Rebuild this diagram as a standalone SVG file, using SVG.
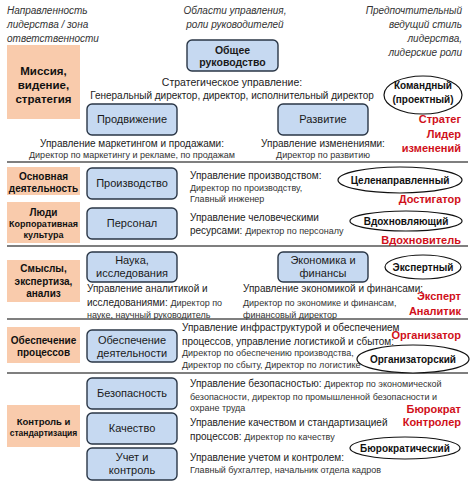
<svg xmlns="http://www.w3.org/2000/svg" width="474" height="485" viewBox="0 0 474 485">
<style>
text{font-family:"Liberation Sans",Arial,sans-serif;fill:#222}
.hd{font-style:italic;font-size:10px;fill:#333}
.zone rect{fill:#f9cbac}
.zone text{font-weight:bold;font-size:10px;text-anchor:middle;fill:#111}
.area rect{fill:#c6d9f1;stroke:#2a3646;stroke-width:1.4}
.area text{font-size:11px;text-anchor:middle;fill:#1a1a1a}
.style ellipse{fill:#fff;stroke:#111;stroke-width:1.2}
.style text{font-weight:bold;font-size:10px;text-anchor:middle;fill:#111}
.role{font-weight:bold;font-size:11px;text-anchor:end;fill:#d0101a}
.m{font-size:10px;fill:#222}
.s{font-size:9px;fill:#333}
.sep line{stroke:#555;stroke-width:1.6}
</style>

<g id="headers">
<text class="hd" x="7" y="14">Направленность</text>
<text class="hd" x="7" y="28">лидерства / зона</text>
<text class="hd" x="7" y="42">ответственности</text>
<text class="hd" x="235" y="14" text-anchor="middle">Области управления,</text>
<text class="hd" x="235" y="28" text-anchor="middle">роли руководителей</text>
<text class="hd" x="462" y="14" text-anchor="end">Предпочтительный</text>
<text class="hd" x="462" y="28" text-anchor="end">ведущий стиль</text>
<text class="hd" x="462" y="42" text-anchor="end">лидерства,</text>
<text class="hd" x="462" y="56" text-anchor="end">лидерские роли</text>
</g>

<g id="connectors" class="sep">
<line x1="7" y1="162" x2="468" y2="162"/>
<line x1="7" y1="246" x2="468" y2="246"/>
<line x1="7" y1="319" x2="468" y2="319"/>
<line x1="7" y1="373" x2="468" y2="373"/>
</g>

<g id="zone-mission" class="zone">
<rect x="7" y="45" width="73" height="74"/>
<text x="43.5" y="75" style="font-size:11.5px">Миссия,</text>
<text x="43.5" y="89" style="font-size:11.5px">видение,</text>
<text x="43.5" y="103" style="font-size:11.5px">стратегия</text>
</g>
<g id="zone-core" class="zone">
<rect x="7" y="167" width="73" height="28"/>
<text x="43.5" y="179.5">Основная</text>
<text x="43.5" y="191.5">деятельность</text>
</g>
<g id="zone-people" class="zone">
<rect x="7" y="202" width="73" height="41"/>
<text x="43.5" y="215.5">Люди</text>
<text x="43.5" y="226.5" style="font-size:9px">Корпоративная</text>
<text x="43.5" y="237.5" style="font-size:9px">культура</text>
</g>
<g id="zone-sense" class="zone">
<rect x="7" y="260" width="73" height="42"/>
<text x="43.5" y="271.5">Смыслы,</text>
<text x="43.5" y="284.5">экспертиза,</text>
<text x="43.5" y="296.5">анализ</text>
</g>
<g id="zone-support" class="zone">
<rect x="7" y="327" width="73" height="36"/>
<text x="43.5" y="343.5">Обеспечение</text>
<text x="43.5" y="355.5">процессов</text>
</g>
<g id="zone-control" class="zone">
<rect x="7" y="405" width="73" height="42"/>
<text x="43.5" y="425" style="font-size:9.5px">Контроль и</text>
<text x="43.5" y="436" style="font-size:8.5px">стандартизация</text>
</g>

<g id="area-general" class="area">
<rect x="187" y="40" width="91" height="31" rx="5"/>
<text x="232.5" y="53.5" style="font-weight:bold;font-size:10.5px">Общее</text>
<text x="232.5" y="66" style="font-weight:bold;font-size:10.5px">руководство</text>
</g>
<g id="area-promo" class="area">
<rect x="87" y="104" width="90" height="31" rx="5"/>
<text x="132" y="123">Продвижение</text>
</g>
<g id="area-dev" class="area">
<rect x="278" y="104" width="90" height="31" rx="5"/>
<text x="323" y="123">Развитие</text>
</g>
<g id="area-prod" class="area">
<rect x="87" y="168" width="90" height="31" rx="5"/>
<text x="132" y="187">Производство</text>
</g>
<g id="area-hr" class="area">
<rect x="87" y="208" width="90" height="31" rx="5"/>
<text x="132" y="227">Персонал</text>
</g>
<g id="area-science" class="area">
<rect x="87" y="252" width="90" height="30" rx="5"/>
<text x="132" y="264">Наука,</text>
<text x="132" y="277">исследования</text>
</g>
<g id="area-econ" class="area">
<rect x="278" y="252" width="90" height="30" rx="5"/>
<text x="323" y="264">Экономика и</text>
<text x="323" y="277">финансы</text>
</g>
<g id="area-support" class="area">
<rect x="87" y="330" width="90" height="32" rx="5"/>
<text x="132" y="344">Обеспечение</text>
<text x="132" y="357">деятельности</text>
</g>
<g id="area-safety" class="area">
<rect x="87" y="378" width="90" height="31" rx="5"/>
<text x="132" y="397">Безопасность</text>
</g>
<g id="area-quality" class="area">
<rect x="87" y="413" width="90" height="31" rx="5"/>
<text x="132" y="432">Качество</text>
</g>
<g id="area-account" class="area">
<rect x="87" y="448" width="90" height="32" rx="5"/>
<text x="132" y="461">Учет и</text>
<text x="132" y="474">контроль</text>
</g>

<g id="desc-general">
<text class="m" x="232" y="86" text-anchor="middle" style="font-size:10.5px">Стратегическое управление:</text>
<text class="m" x="232" y="99" text-anchor="middle">Генеральный директор, директор, исполнительный директор</text>
</g>
<g id="desc-promo">
<text class="m" x="132" y="147" text-anchor="middle">Управление маркетингом и продажами:</text>
<text class="s" x="132" y="158" text-anchor="middle">Директор по маркетингу и рекламе, по продажам</text>
</g>
<g id="desc-dev">
<text class="m" x="323" y="147" text-anchor="middle">Управление изменениями:</text>
<text class="s" x="323" y="158" text-anchor="middle">Директор по развитию</text>
</g>
<g id="desc-prod">
<text class="m" x="190" y="179">Управление производством:</text>
<text class="s" x="190" y="191">Директор по производству,</text>
<text class="s" x="190" y="202">Главный инженер</text>
</g>
<g id="desc-hr">
<text class="m" x="190" y="221">Управление человеческими</text>
<text class="m" x="190" y="234">ресурсами: <tspan class="s">Директор по персоналу</tspan></text>
</g>
<g id="desc-science">
<text class="m" x="87" y="292">Управление аналитикой и</text>
<text class="m" x="87" y="306">исследованиями: <tspan class="s">Директор по</tspan></text>
<text class="s" x="87" y="318">науке, научный руководитель</text>
</g>
<g id="desc-econ">
<text class="m" x="243" y="292">Управление экономикой и финансами:</text>
<text class="s" x="243" y="306">Директор по экономике и финансам,</text>
<text class="s" x="243" y="318">финансовый директор</text>
</g>
<g id="desc-support">
<text class="m" x="182" y="331">Управление инфраструктурой и обеспечением</text>
<text class="m" x="182" y="345">процессов, управление логистикой и сбытом:</text>
<text class="s" x="182" y="356">Директор по обеспечению производства,</text>
<text class="s" x="182" y="368">Директор по сбыту, Директор по логистике</text>
</g>
<g id="desc-safety">
<text class="m" x="190" y="387">Управление безопасностью: <tspan class="s">Директор по экономической</tspan></text>
<text class="s" x="190" y="400">безопасности, директор по промышленной безопасности и</text>
<text class="s" x="190" y="411">охране труда</text>
</g>
<g id="desc-quality">
<text class="m" x="190" y="426">Управление качеством и стандартизацией</text>
<text class="m" x="190" y="440">процессов: <tspan class="s">Директор по качеству</tspan></text>
</g>
<g id="desc-account">
<text class="m" x="190" y="461">Управление учетом и контролем:</text>
<text class="s" x="190" y="473">Главный бухгалтер, начальник отдела кадров</text>
</g>

<g id="style-team" class="style">
<ellipse cx="423" cy="95" rx="39" ry="19"/>
<text x="423" y="89">Командный</text>
<text x="423" y="103">(проектный)</text>
</g>
<g id="style-goal" class="style">
<ellipse cx="400" cy="180" rx="62" ry="13"/>
<text x="400" y="184">Целенаправленный</text>
</g>
<g id="style-inspire" class="style">
<ellipse cx="406" cy="221" rx="56" ry="10"/>
<text x="406" y="225">Вдохновляющий</text>
</g>
<g id="style-expert" class="style">
<ellipse cx="423" cy="267" rx="38" ry="12"/>
<text x="423" y="271">Экспертный</text>
</g>
<g id="style-org" class="style">
<ellipse cx="413" cy="359" rx="56" ry="14"/>
<text x="413" y="363">Организаторский</text>
</g>
<g id="style-bureau" class="style">
<ellipse cx="405" cy="448" rx="55" ry="11"/>
<text x="405" y="452">Бюрократический</text>
</g>

<g id="roles">
<text class="role" x="461" y="123">Стратег</text>
<text class="role" x="461" y="138">Лидер</text>
<text class="role" x="461" y="152">изменений</text>
<text class="role" x="461" y="203">Достигатор</text>
<text class="role" x="461" y="244">Вдохновитель</text>
<text class="role" x="461" y="300">Эксперт</text>
<text class="role" x="461" y="315">Аналитик</text>
<text class="role" x="461" y="339">Организатор</text>
<text class="role" x="461" y="413">Бюрократ</text>
<text class="role" x="461" y="426">Контролер</text>
</g>
</svg>
